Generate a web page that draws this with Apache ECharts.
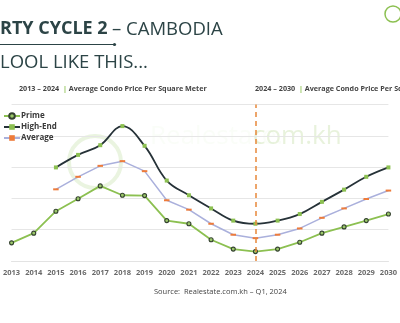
<!DOCTYPE html>
<html><head><meta charset="utf-8">
<script src="https://cdn.jsdelivr.net/npm/echarts@6/dist/echarts.min.js"></script>
<style>html,body{margin:0;padding:0;background:#fff}#c{width:400px;height:323px}</style>
</head><body><div id="c"></div>
<script>
const years = ['2013','2014','2015','2016','2017','2018','2019','2020','2021','2022','2023','2024','2025','2026','2027','2028','2029','2030'];
const prime = [58,89,159,199,240,210,209,129,119,68,38,30,38,60,89,109,129,150];
const highEnd = [null,null,299,339,370,431,368,257,210,168,129,119,129,150,189,228,269,299];
const average = [null,null,229,269,304,319,287,194,164,119,84,73,84,104,138,168,198,225];
const yTicks = {min:0, max:500, interval:100};
const splitYear = '2024';

const chart = echarts.init(document.getElementById('c'), null, {renderer:'canvas'});
const F = 'Open Sans';
chart.setOption({
  animation:false,
  backgroundColor:'#fff',
  grid:{left:1, right:8, top:104.5, bottom:62},
  legend:{
    orient:'vertical', left:-2, top:107, itemGap:3, itemWidth:16, itemHeight:7,
    textStyle:{fontFamily:F, fontSize:8, fontWeight:'bold', color:'#3a3a3a', padding:[0,0,0,-4]},
    data:['Prime','High-End','Average']
  },
  xAxis:{type:'category', data:years, boundaryGap:false,
    axisLine:{lineStyle:{color:'#e3e3e3'}}, axisTick:{show:false},
    axisLabel:{interval:0, margin:8, fontFamily:F, fontSize:7.5, fontWeight:'bold', color:'#6a6a6a'}},
  yAxis:{type:'value', min:yTicks.min, max:yTicks.max, interval:yTicks.interval,
    axisLabel:{show:false}, axisLine:{show:false}, axisTick:{show:false},
    splitLine:{lineStyle:{color:'#e6e6e6', width:1}}},
  graphic:[
    {type:'text', left:0, top:20, style:{text:'RTY CYCLE 2', font:'bold 18px "Open Sans"', fill:'#2c4446'}},
    {type:'text', left:112, top:20, style:{text:'– CAMBODIA', font:'18.5px "Open Sans"', fill:'#2c4446'}},
    {type:'line', shape:{x1:0,y1:44.5,x2:114,y2:44.5}, style:{stroke:'#2c4446', lineWidth:1}},
    {type:'circle', shape:{cx:114.5,cy:44.5,r:1.6}, style:{fill:'#2c4446'}},
    {type:'text', left:0, top:53, style:{text:'LOOL LIKE THIS...', font:'18.5px "Open Sans"', fill:'#2c4446'}},
    {type:'text', left:19, top:85, style:{rich:{a:{fontFamily:F,fontSize:7.2,fontWeight:'bold',fill:'#444'},g:{fontFamily:F,fontSize:7.2,fontWeight:'bold',fill:'#8cc051'}}, text:'{a|2013 – 2024 }{g| | }{a|Average Condo Price Per Square Meter}'}},
    {type:'text', left:255, top:85, style:{rich:{a:{fontFamily:F,fontSize:7.2,fontWeight:'bold',fill:'#444'},g:{fontFamily:F,fontSize:7.2,fontWeight:'bold',fill:'#8cc051'}}, text:'{a|2024 – 2030 }{g| | }{a|Average Condo Price Per Square Meter}'}},
    {type:'text', left:154, top:288, style:{text:'Source:  Realestate.com.kh – Q1, 2024', font:'7.5px "Open Sans"', fill:'#444'}},
    {type:'text', left:150, top:124, z:-1, style:{text:'Realestate.', font:'26px "Open Sans"', fill:'rgba(140,192,81,0.04)'}},
    {type:'text', left:253, top:124, z:-1, style:{text:'com.kh', font:'26px "Open Sans"', fill:'rgba(140,192,81,0.2)'}},
    {type:'circle', z:-1, shape:{cx:95,cy:162,r:26}, style:{fill:'none', stroke:'rgba(140,192,81,0.18)', lineWidth:4}},
    {type:'circle', shape:{cx:393,cy:14,r:8}, style:{fill:'none', stroke:'#8cc051', lineWidth:1.5}}
  ],
  series:[
    {name:'Prime', type:'line', data:prime, symbol:'circle', symbolSize:4, showAllSymbol:true,
      lineStyle:{color:'#8cc051', width:1.8}, itemStyle:{color:'#9bc86a', borderColor:'#34422f', borderWidth:1.1}, z:3},
    {name:'High-End', type:'line', data:highEnd, smooth:0.4, symbol:'rect', symbolSize:4,
      lineStyle:{color:'#263238', width:1.8}, itemStyle:{color:'#8cc051', borderWidth:0}, z:3},
    {name:'Average', type:'line', data:average, symbol:'rect', symbolSize:[5.5,2],
      lineStyle:{color:'#aab0dc', width:1.5}, itemStyle:{color:'#ee7b3a', borderWidth:0}, z:3,
      markLine:{silent:true, symbol:'none', label:{show:false},
        lineStyle:{color:'#e8883a', type:[5,4], width:1.5},
        data:[{xAxis:splitYear}]}}
  ]
});
</script></body></html>
